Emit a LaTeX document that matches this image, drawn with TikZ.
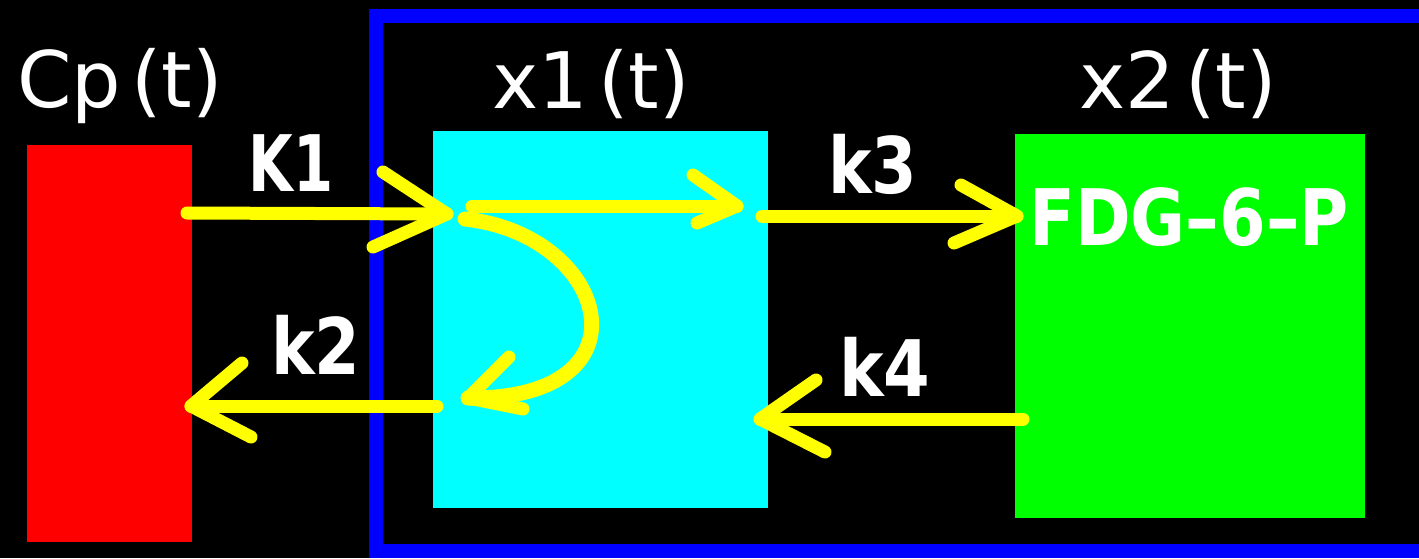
\documentclass[tikz,border=0pt]{standalone}
\usepackage{fontspec}
\setmainfont{DejaVu Sans}
\usetikzlibrary{calc}
\definecolor{boxred}{RGB}{255,0,0}
\definecolor{boxcyan}{RGB}{0,255,255}
\definecolor{boxgreen}{RGB}{0,255,0}
\definecolor{frameblue}{RGB}{0,0,255}
\definecolor{flowyellow}{RGB}{255,255,0}
\newcommand\lblfont{\fontsize{78}{80}\selectfont}
\begin{document}
\begin{tikzpicture}[x=1pt,y=-1pt,
  box/.style={inner sep=0pt, outer sep=0pt, draw=none},
  lbl/.style={text=white, font=\lblfont, inner sep=0pt, anchor=base},
  rate/.style={lbl, font=\lblfont\bfseries},
  flow/.style={draw=flowyellow, line width=13pt, line cap=round, line join=round}]
\useasboundingbox (0,0) rectangle (1419,558);
\clip (0,0) rectangle (1419,558);
\fill[black] (0,0) rectangle (1419,558);
% compartment frame
\node[box, draw=frameblue, line width=14pt, minimum width=1064pt, minimum height=535pt] (tissue) at (908,283.5) {};
% boxes
\node[box, fill=boxred, minimum width=165pt, minimum height=397pt] (cp) at (109.5,343.5) {};
\node[box, fill=boxcyan, minimum width=335pt, minimum height=377pt] (x1) at (600.5,319.5) {};
\node[box, fill=boxgreen, minimum width=350pt, minimum height=384pt] (x2) at (1190,326) {};
% labels
\node[lbl] (cpl) at (120,107) {Cp\hspace{10pt}(t)};
\node[lbl] (x1l) at (591,108) {x1\hspace{10pt}(t)};
\node[lbl] (x2l) at (1178,108) {x2\hspace{10pt}(t)};
\node[rate] (k1l) at (291,191) {\scalebox{0.74}[1]{K1}};
\node[rate] (k3l) at (873,193) {\scalebox{0.84}[1]{k3}};
\node[rate] (k2l) at (316,374) {\scalebox{0.84}[1]{k2}};
\node[rate] (k4l) at (885,396) {\scalebox{0.86}[1]{k4}};
\node[rate] (fdg) at (1189,245) {\scalebox{0.86}[1]{FDG–6–P}};
% K1
\draw[flow] ($(cp.east)+(-5,-130.5)$) -- ($(x1.west)+(14,-105.5)$) coordinate (k1tip);
\draw[flow] ($(k1tip)+(-64,-42)$) -- (k1tip) -- ++(-74,33);
% inner flow
\draw[flow] ($(x1.west)+(39,-113.5)$) -- ($(x1.east)+(-31,-113.5)$) coordinate (intip);
\draw[flow] ($(intip)+(-44,-31)$) -- (intip) -- ++(-40,17);
% curved return
\draw[flow, line width=15pt] ($(x1.west)+(32,-100.5)$) .. controls ($(x1.west)+(177,-84.5)$) and ($(x1.west)+(222,80.5)$) .. ($(x1.west)+(35,78.5)$) coordinate (cvtip);
\draw[flow] ($(cvtip)+(41,-41)$) -- (cvtip) -- ++(55,11);
% k3
\draw[flow] ($(x1.east)+(-6,-103.5)$) -- ($(x2.west)+(2,-110)$) coordinate (k3tip);
\draw[flow] ($(k3tip)+(-56,-31)$) -- (k3tip) -- ++(-63,27);
% k2
\draw[flow] ($(x1.west)+(4,86.5)$) -- ($(cp.east)+(-1,62.5)$) coordinate (k2tip);
\draw[flow] ($(k2tip)+(51,-43)$) -- (k2tip) -- ++(60,31);
% k4
\draw[flow] ($(x2.west)+(8,93)$) -- ($(x1.east)+(-8,99.5)$) coordinate (k4tip);
\draw[flow] ($(k4tip)+(56,-39)$) -- (k4tip) -- ++(65,33);
\end{tikzpicture}
\end{document}
